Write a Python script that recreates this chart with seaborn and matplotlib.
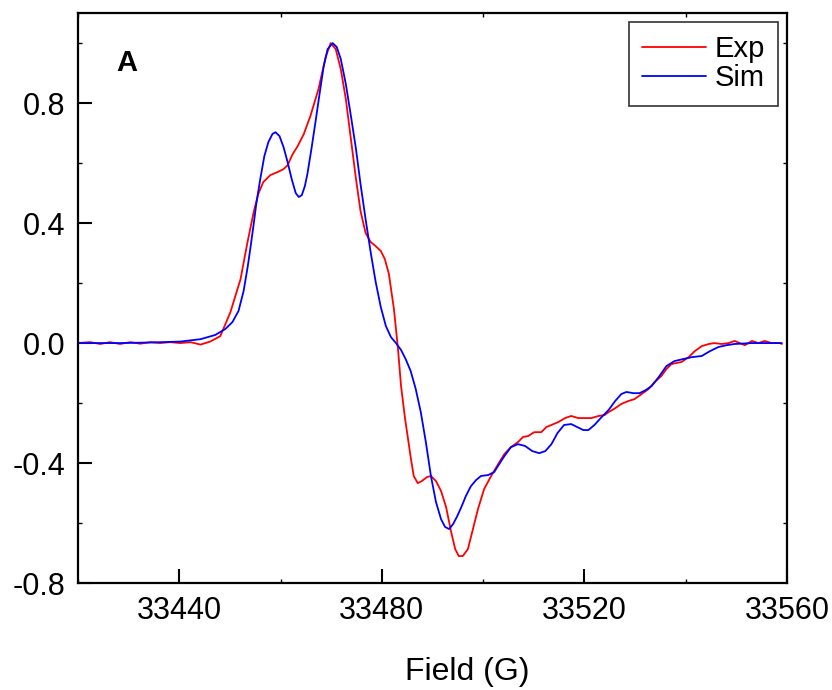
import seaborn as sns
import matplotlib.pyplot as plt
import pandas as pd
from matplotlib.ticker import MultipleLocator

# Exp spectrum
exp_field = [33420.0, 33422.4, 33424.4, 33426.3, 33428.3, 33430.3, 33432.3, 33434.3, 33436.2, 33438.2,
             33440.2, 33442.2, 33444.2, 33446.1, 33448.1, 33450.1, 33452.1, 33453.4, 33454.7, 33455.6,
             33456.6, 33458.0, 33459.4, 33460.6, 33461.4, 33462.4, 33463.4, 33464.6, 33465.9, 33467.5,
             33468.9, 33469.9, 33470.9, 33471.9, 33472.9, 33473.9, 33474.9, 33475.8, 33476.8, 33477.8,
             33478.8, 33479.8, 33480.6, 33481.4, 33482.4, 33483.2, 33483.8, 33484.6, 33485.1, 33485.7,
             33486.3, 33487.1, 33487.9, 33488.9, 33489.7, 33490.7, 33491.7, 33492.7, 33493.7, 33494.5,
             33495.2, 33496.0, 33497.0, 33498.0, 33499.0, 33500.2, 33501.6, 33503.0, 33504.2, 33505.5,
             33506.9, 33507.9, 33508.9, 33510.1, 33511.5, 33512.5, 33513.5, 33514.9, 33516.2, 33517.4,
             33518.8, 33520.2, 33521.4, 33522.8, 33524.0, 33524.8, 33526.1, 33527.3, 33528.7, 33529.9,
             33531.3, 33532.7, 33533.9, 33535.2, 33536.2, 33537.2, 33539.2, 33540.6, 33541.8, 33543.2,
             33544.6, 33545.7, 33547.1, 33548.5, 33549.7, 33550.7, 33551.7, 33553.1, 33554.4, 33555.6,
             33557.0, 33558.6, 33559.0]
exp_int = [0.0, 0.003, -0.003, 0.003, -0.003, 0.003, -0.002, 0.003, 0.0, 0.003,
           0.0, 0.003, -0.005, 0.005, 0.023, 0.103, 0.213, 0.33, 0.437, 0.497,
           0.537, 0.56, 0.57, 0.58, 0.593, 0.63, 0.657, 0.697, 0.757, 0.847,
           0.953, 1.0, 0.98, 0.913, 0.813, 0.68, 0.547, 0.44, 0.367, 0.337,
           0.323, 0.307, 0.28, 0.23, 0.113, -0.02, -0.143, -0.253, -0.31, -0.38,
           -0.443, -0.467, -0.46, -0.447, -0.443, -0.46, -0.493, -0.547, -0.63, -0.687,
           -0.71, -0.71, -0.687, -0.62, -0.553, -0.487, -0.443, -0.403, -0.37, -0.347,
           -0.33, -0.313, -0.31, -0.297, -0.297, -0.28, -0.273, -0.263, -0.25, -0.243,
           -0.25, -0.25, -0.25, -0.243, -0.24, -0.23, -0.217, -0.203, -0.193, -0.187,
           -0.17, -0.153, -0.13, -0.11, -0.087, -0.07, -0.063, -0.047, -0.027, -0.01,
           -0.003, 0.0, -0.003, 0.0, 0.007, 0.0, -0.007, 0.007, 0.0, 0.007,
           0.0, 0.0, -0.003]

# Sim spectrum
sim_field = [33420.0, 33428.3, 33434.3, 33440.2, 33444.2, 33447.1, 33449.1, 33450.5, 33451.7, 33452.7,
             33453.5, 33454.1, 33454.7, 33455.2, 33456.0, 33456.8, 33457.6, 33458.4, 33459.0, 33459.8,
             33460.6, 33461.4, 33462.2, 33463.0, 33463.6, 33464.2, 33464.8, 33465.3, 33466.1, 33466.9,
             33467.7, 33468.5, 33469.3, 33470.3, 33471.1, 33471.9, 33472.9, 33473.9, 33474.9, 33475.8,
             33476.8, 33477.8, 33478.8, 33479.8, 33480.8, 33481.8, 33482.8, 33483.8, 33484.7, 33485.7,
             33486.7, 33487.7, 33488.7, 33489.7, 33490.7, 33491.7, 33492.5, 33493.3, 33494.1, 33494.9,
             33495.7, 33496.6, 33497.6, 33498.6, 33499.6, 33501.0, 33502.2, 33503.2, 33504.2, 33505.5,
             33506.9, 33508.3, 33509.7, 33511.1, 33512.3, 33513.5, 33514.7, 33516.0, 33517.4, 33518.6,
             33519.8, 33520.8, 33522.0, 33523.4, 33524.8, 33526.1, 33527.3, 33528.3, 33529.7, 33530.9,
             33532.1, 33533.3, 33534.7, 33536.2, 33537.8, 33539.6, 33541.2, 33543.2, 33544.8, 33546.5,
             33548.1, 33549.7, 33553.1, 33559.0]
sim_int = [0.0, 0.0, 0.002, 0.005, 0.013, 0.027, 0.047, 0.07, 0.107, 0.173,
           0.253, 0.323, 0.397, 0.463, 0.547, 0.623, 0.67, 0.697, 0.703, 0.69,
           0.653, 0.603, 0.547, 0.5, 0.487, 0.493, 0.523, 0.563, 0.647, 0.737,
           0.83, 0.92, 0.98, 1.0, 0.987, 0.947, 0.863, 0.757, 0.647, 0.53,
           0.413, 0.303, 0.203, 0.12, 0.057, 0.02, 0.0, -0.023, -0.053, -0.093,
           -0.153, -0.23, -0.33, -0.443, -0.53, -0.587, -0.613, -0.62, -0.603, -0.577,
           -0.547, -0.51, -0.477, -0.457, -0.443, -0.44, -0.43, -0.403, -0.377, -0.347,
           -0.337, -0.343, -0.36, -0.367, -0.36, -0.337, -0.3, -0.273, -0.27, -0.28,
           -0.29, -0.29, -0.273, -0.247, -0.223, -0.193, -0.17, -0.163, -0.167, -0.167,
           -0.157, -0.143, -0.113, -0.077, -0.06, -0.053, -0.047, -0.043, -0.027, -0.013,
           -0.007, -0.003, 0.0, 0.0]

df = pd.concat([
    pd.DataFrame({"field": exp_field, "intensity": exp_int, "series": "Exp"}),
    pd.DataFrame({"field": sim_field, "intensity": sim_int, "series": "Sim"}),
])

sns.set_style("ticks")
plt.rcParams["font.family"] = ["Liberation Sans", "DejaVu Sans"]
plt.rcParams["text.color"] = "black"
plt.rcParams["xtick.color"] = "black"
plt.rcParams["ytick.color"] = "black"
plt.rcParams["axes.labelcolor"] = "black"

fig = plt.figure(figsize=(8.32, 6.9), dpi=100)
ax = fig.add_axes([0.09375, 0.155, 0.852, 0.826])

sns.lineplot(data=df, x="field", y="intensity", hue="series",
             palette={"Exp": "#ff0000", "Sim": "#0000ff"},
             sort=False, estimator=None, linewidth=1.3, ax=ax)

ax.set_xlim(33420, 33560)
ax.set_ylim(-0.8, 1.1)
ax.xaxis.set_minor_locator(MultipleLocator(20))
ax.yaxis.set_minor_locator(MultipleLocator(0.2))
ax.set_xticks([33440, 33480, 33520, 33560])
ax.set_yticks([-0.8, -0.4, 0.0, 0.4, 0.8])
ax.set_yticklabels(["-0.8", "-0.4", "0.0", "0.4", "0.8"])

ax.tick_params(axis="both", which="major", direction="in", length=10, width=1.5,
               labelsize=22, pad=9)
ax.tick_params(axis="both", which="minor", direction="in", length=3, width=1)
ax.tick_params(axis="x", which="both", top=True)
ax.tick_params(axis="y", which="both", right=True)
ax.tick_params(axis="x", which="major", top=False)
ax.tick_params(axis="y", which="major", right=False)
for s in ax.spines.values():
    s.set_linewidth(1.6)
    s.set_color("black")

ax.set_xlabel("Field (G)", fontsize=23)
ax.xaxis.set_label_coords(0.549, -0.13)
ax.set_ylabel("")

ax.text(0.054, 0.912, "A", transform=ax.transAxes, fontsize=21,
        fontweight="bold", va="center")

leg = ax.legend(loc="upper right", fontsize=21, frameon=True, fancybox=False,
                handlelength=2.2, handletextpad=0.3, borderpad=0.45,
                labelspacing=0.05, borderaxespad=0.3)
leg.set_title(None)
leg.get_frame().set_edgecolor("black")
leg.get_frame().set_linewidth(1.2)

fig.savefig("out.png", dpi=100)
